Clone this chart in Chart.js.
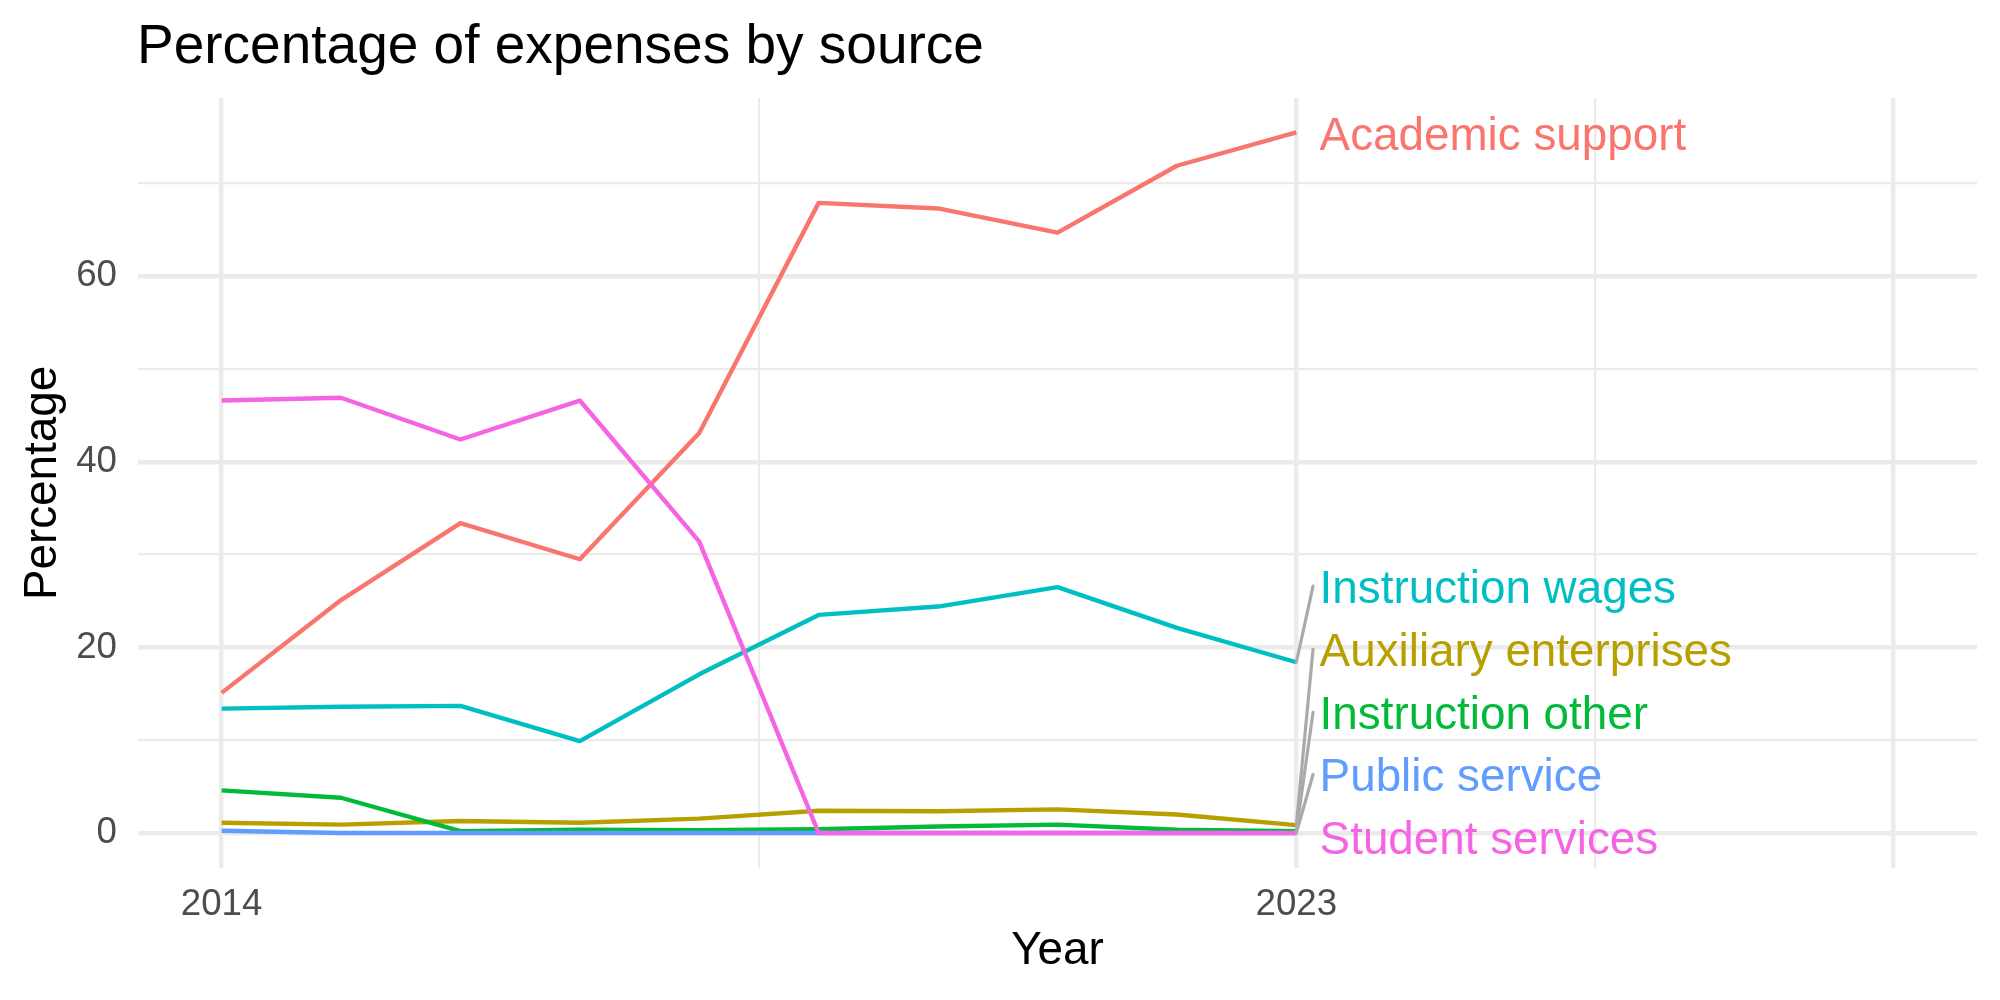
<!DOCTYPE html>
<html>
<head>
<meta charset="utf-8">
<title>Percentage of expenses by source</title>
<script src="https://cdn.jsdelivr.net/npm/chart.js@4/dist/chart.umd.min.js"></script>
<style>
  html, body { margin: 0; padding: 0; background: #ffffff; }
  #wrap { width: 2000px; height: 1000px; }
</style>
</head>
<body>
<div id="wrap"><canvas id="chart"></canvas></div>
<script>
// data
const years = [2014, 2015, 2016, 2017, 2018, 2019, 2020, 2021, 2022, 2023];
const sources = ['Academic support', 'Auxiliary enterprises', 'Instruction other',
                 'Instruction wages', 'Public service', 'Student services'];
const academicSupport      = [15.1, 25.1, 33.4, 29.5, 43.1, 67.9, 67.3, 64.7, 71.9, 75.5];
const auxiliaryEnterprises = [1.1, 0.9, 1.3, 1.1, 1.55, 2.4, 2.35, 2.55, 2.0, 0.85];
const instructionOther     = [4.6, 3.8, 0.2, 0.35, 0.3, 0.4, 0.7, 0.9, 0.35, 0.2];
const instructionWages     = [13.4, 13.6, 13.7, 9.9, 17.1, 23.5, 24.4, 26.5, 22.1, 18.4];
const publicService        = [0.25, 0, 0, 0, 0, 0, 0, 0, 0, 0];
const studentServices      = [46.6, 46.9, 42.4, 46.6, 31.4, 0, 0, 0, 0, 0];

// axis ticks
const xLabelled = [2014, 2023];
const xGrid = [2014, 2018.5, 2023, 2025.5, 2028];
const xMajor = [2014, 2023, 2028];

// where the repelled end labels ended up (percentage units)
const labelAt = [75.4, 19.8, 13.0, 26.6, 6.3, -0.5];

const colors = ['#F8766D', '#B79F00', '#00BA38', '#00BFC4', '#619CFF', '#F564E3'];
const values = [academicSupport, auxiliaryEnterprises, instructionOther,
                instructionWages, publicService, studentServices];

const FONT = '"Liberation Sans", Arial, Helvetica, sans-serif';

const datasets = sources.map(function (name, i) {
    return {
        label: name,
        data: years.map(function (yr, j) { return { x: yr, y: values[i][j] }; }),
        borderColor: colors[i],
        backgroundColor: colors[i],
        borderWidth: 4.4,
        borderJoinStyle: 'round',
        pointRadius: 0,
        tension: 0,
        fill: false,
        order: sources.length - 1 - i   // last series on top, like ggplot
    };
});

const endLabels = {
    id: 'endLabels',
    afterDatasetsDraw: function (chart) {
        const ctx = chart.ctx;
        const x = chart.scales.x;
        const y = chart.scales.y;
        const last = years[years.length - 1];
        const size = 45.8;
        ctx.save();
        ctx.font = size + 'px ' + FONT;
        ctx.textAlign = 'left';
        ctx.textBaseline = 'alphabetic';
        sources.forEach(function (name, i) {
            const endVal = values[i][values[i].length - 1];
            const px = x.getPixelForValue(last);
            const py = y.getPixelForValue(endVal);
            const ly = y.getPixelForValue(labelAt[i]);
            if (Math.abs(ly - py) > 20) {
                ctx.strokeStyle = '#AAAAAA';
                ctx.lineWidth = 3.2;
                ctx.lineCap = 'round';
                ctx.beginPath();
                ctx.moveTo(px, py);
                ctx.lineTo(x.getPixelForValue(last + 0.14), ly);
                ctx.stroke();
            }
            ctx.fillStyle = colors[i];
            ctx.fillText(name, x.getPixelForValue(last + 0.195), ly + 0.358 * size);
        });
        ctx.restore();
    },
    afterDraw: function (chart) {
        const ctx = chart.ctx;
        ctx.save();
        ctx.font = '55px ' + FONT;
        ctx.fillStyle = '#000000';
        ctx.textAlign = 'left';
        ctx.textBaseline = 'alphabetic';
        ctx.fillText('Percentage of expenses by source', chart.chartArea.left - 1, 63);
        ctx.restore();
    }
};

new Chart(document.getElementById('chart'), {
    type: 'line',
    data: { datasets: datasets },
    options: {
        responsive: true,
        maintainAspectRatio: false,
        animation: false,
        events: [],
        layout: { padding: { top: 98, right: 23, bottom: 0, left: 0 } },
        plugins: {
            legend: { display: false },
            tooltip: { enabled: false },
            title: { display: false }
        },
        scales: {
            x: {
                type: 'linear',
                min: 2013.3,
                max: 2028.7,
                afterBuildTicks: function (scale) {
                    scale.ticks = xGrid.map(function (v) { return { value: v }; });
                },
                afterFit: function (scale) { scale.height = 132; },
                border: { display: false },
                grid: {
                    color: '#EBEBEB',
                    drawTicks: false,
                    tickLength: 0,
                    lineWidth: function (c) {
                        return xMajor.indexOf(c.tick.value) >= 0 ? 4.4 : 2.2;
                    }
                },
                ticks: {
                    autoSkip: false,
                    maxRotation: 0,
                    padding: 15,
                    color: '#4D4D4D',
                    font: { family: FONT, size: 36.7 },
                    callback: function (v) {
                        return xLabelled.indexOf(v) >= 0 ? String(v) : '';
                    }
                },
                title: {
                    display: true,
                    text: 'Year',
                    color: '#000000',
                    font: { family: FONT, size: 45.8 },
                    padding: { top: 0, bottom: 21 }
                }
            },
            y: {
                type: 'linear',
                min: -3.77,
                max: 79.2,
                afterFit: function (scale) { scale.width = 138; },
                border: { display: false },
                grid: {
                    color: '#EBEBEB',
                    drawTicks: false,
                    tickLength: 0,
                    lineWidth: function (c) {
                        return c.tick.value % 20 === 0 ? 4.4 : 2.2;
                    }
                },
                ticks: {
                    stepSize: 10,
                    includeBounds: false,
                    padding: 21,
                    color: '#4D4D4D',
                    font: { family: FONT, size: 36.7 },
                    callback: function (v) { return v % 20 === 0 ? String(v) : ''; }
                },
                title: {
                    display: true,
                    text: 'Percentage',
                    color: '#000000',
                    font: { family: FONT, size: 45.8 },
                    padding: { top: 16, bottom: 0 }
                }
            }
        }
    },
    plugins: [endLabels]
});
</script>
</body>
</html>
